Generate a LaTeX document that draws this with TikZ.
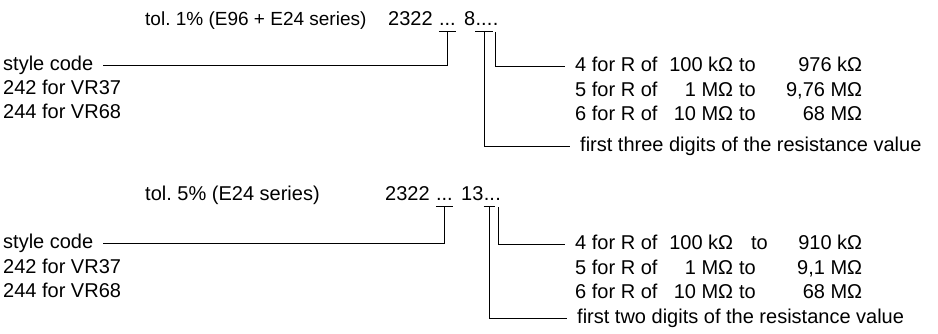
\documentclass[tikz,border=0pt]{standalone}
\usepackage{fontspec}
\setmainfont{Liberation Sans}

\newcommand{\rangerow}[4]{\makebox[92pt][l]{#1}\makebox[66pt][r]{#2}\hspace{6pt}\makebox[40pt][l]{#3}\makebox[83pt][r]{#4}}

\begin{document}
\begin{tikzpicture}[x=1pt,y=-1pt,font=\fontsize{20}{24}\selectfont,
    lbl/.style={anchor=west,inner sep=0pt,text height=14pt,text depth=4pt},
    brk/.style={line width=0.9pt}]
    \useasboundingbox (0,0) rectangle (938,333);

    % Tolerancia 1 %: codigo.
    \node[lbl,font=\fontsize{19}{24}\selectfont] (tol1) at (145,20) {tol.\ 1\% (E96 + E24 series)};
    \node[lbl] (ser1) at (388,20) {2322};
    \node[lbl] (dots1) at ([xshift=6pt]ser1.east) {...};
    \node[lbl] (tc1) at ([xshift=8pt]dots1.east) {8};
    \node[lbl] (dg1) at (tc1.east) {...};
    \node[lbl] (mul1) at (dg1.east) {.};

    % Tolerancia 1 %: textos.
    \node[lbl] (sc1) at (3,65) {style code};
    \node[lbl] (vr1a) at (3,89) {242 for VR37};
    \node[lbl] (vr1b) at (3,113) {244 for VR68};
    \node[lbl] (rg1a) at (575,66) {\rangerow{4 for R of}{100 kΩ}{to}{976 kΩ}};
    \node[lbl] (rg1b) at (575,91) {\rangerow{5 for R of}{1 MΩ}{to}{9,76 MΩ}};
    \node[lbl] (rg1c) at (575,115) {\rangerow{6 for R of}{10 MΩ}{to}{68 MΩ}};
    \node[lbl] (fd1) at (580,146) {first three digits of the resistance value};

    % Tolerancia 1 %: llaves.
    \coordinate (k1) at ([yshift=-6pt]dots1.base);
    \coordinate (k2) at ([yshift=-6pt]dg1.base);
    \coordinate (k3) at ([yshift=-7pt]mul1.base);
    \draw[brk] ([yshift=-6pt]dots1.base west) -- ([yshift=-6pt]dots1.base east);
    \draw[brk] ([yshift=-6pt]dg1.base west) -- ([yshift=-6pt]dg1.base east);
    \draw[brk,shorten >=10pt] (k1) |- (sc1.east);
    \draw[brk,shorten >=10pt] (k2) |- (fd1.west);
    \draw[brk,shorten >=10pt] (k3) |- (rg1a.west);

    % Tolerancia 5 %: codigo.
    \node[lbl] (tol2) at (145,195) {tol.\ 5\% (E24 series)};
    \node[lbl] (ser2) at (385,195) {2322};
    \node[lbl] (dots2) at ([xshift=6pt]ser2.east) {...};
    \node[lbl] (tc2) at ([xshift=8pt]dots2.east) {13};
    \node[lbl] (dg2) at (tc2.east) {..};
    \node[lbl] (mul2) at (dg2.east) {.};

    % Tolerancia 5 %: textos.
    \node[lbl] (sc2) at (3,243) {style code};
    \node[lbl] (vr2a) at (3,268) {242 for VR37};
    \node[lbl] (vr2b) at (3,292) {244 for VR68};
    \node[lbl] (rg2a) at (575,244) {\rangerow{4 for R of}{100 kΩ}{\hspace{12pt}to}{910 kΩ}};
    \node[lbl] (rg2b) at (575,269) {\rangerow{5 for R of}{1 MΩ}{to}{9,1 MΩ}};
    \node[lbl] (rg2c) at (575,293) {\rangerow{6 for R of}{10 MΩ}{to}{68 MΩ}};
    \node[lbl] (fd2) at (577,318) {first two digits of the resistance value};

    % Tolerancia 5 %: llaves.
    \coordinate (k4) at ([yshift=-6pt]dots2.base);
    \coordinate (k5) at ([yshift=-6pt]dg2.base);
    \coordinate (k6) at ([yshift=-7pt]mul2.base);
    \draw[brk] ([yshift=-6pt]dots2.base west) -- ([yshift=-6pt]dots2.base east);
    \draw[brk] ([yshift=-6pt]dg2.base west) -- ([yshift=-6pt]dg2.base east);
    \draw[brk,shorten >=10pt] (k4) |- (sc2.east);
    \draw[brk,shorten >=10pt] (k5) |- (fd2.west);
    \draw[brk,shorten >=10pt] (k6) |- (rg2a.west);
\end{tikzpicture}
\end{document}
